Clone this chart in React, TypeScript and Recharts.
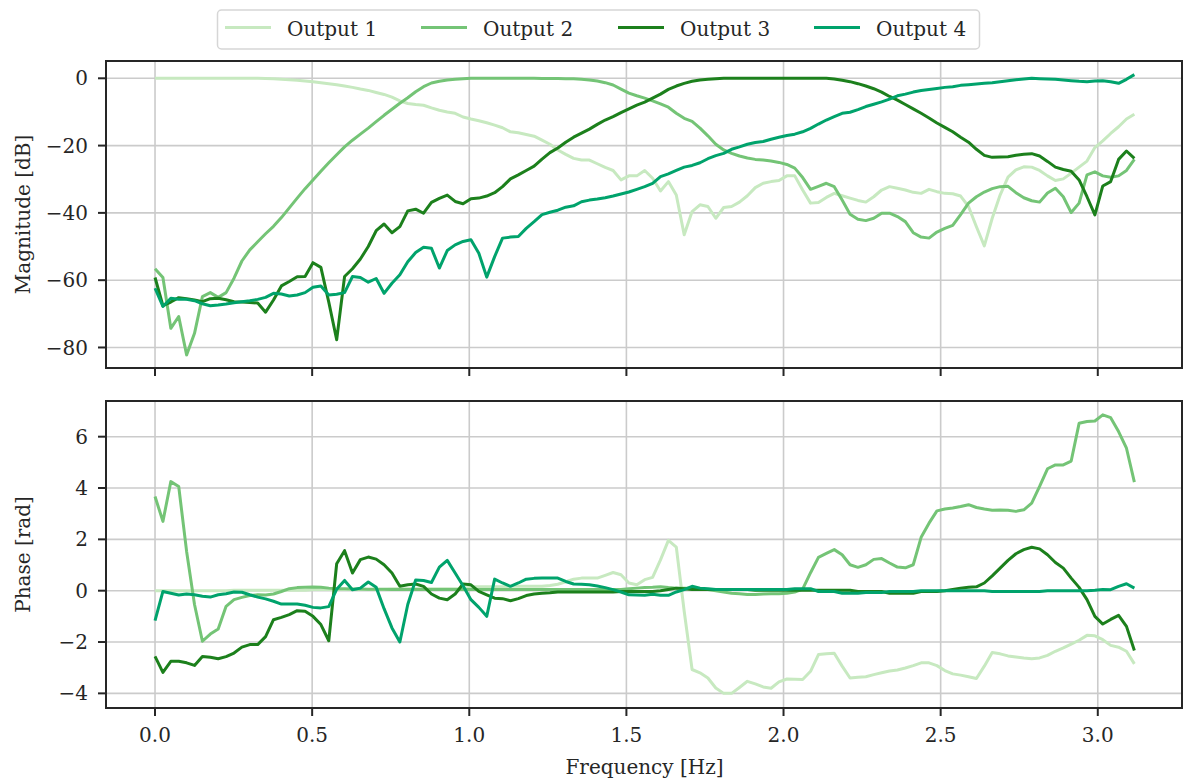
import React from 'react';
import { LineChart, Line, XAxis, YAxis, CartesianGrid, ReferenceArea } from 'recharts';

const FONT = '"DejaVu Serif", serif';
const INK = '#262626';
const GRID = '#cbcbcb';

const seriesNames = ['Output 1', 'Output 2', 'Output 3', 'Output 4'];
const colors = ['#c7e9c0', '#74c476', '#1c801c', '#00a36c'];

const freqTicks = [0, 0.5, 1, 1.5, 2, 2.5, 3];
const magTicks = [-80, -60, -40, -20, 0];
const phaseTicks = [-4, -2, 0, 2, 4, 6];

// magnitude [dB], one value per frequency bin
const mag1 = [
  0, 0, 0, 0, 0, 0, 0, 0, 0, 0, 0, 0, 0, 0, -0.05, -0.15, -0.25, -0.4, -0.55, -0.8,
  -1.0, -1.3, -1.6, -1.9, -2.3, -2.7, -3.2, -3.6, -4.2, -4.8, -5.6, -6.7, -7.5, -7.8, -8.0, -8.8, -9.5, -10.0, -10.4, -11.5,
  -12.1, -12.6, -13.2, -13.9, -14.7, -15.9, -16.2, -16.7, -17.2, -18.4, -19.6, -21.3, -22.6, -23.8, -24.3, -24.3, -25.4, -26.5, -27.4, -30.2,
  -29.0, -29.0, -27.4, -29.7, -33.5, -30.7, -34.7, -46.5, -39.6, -37.6, -38.1, -41.6, -38.4, -38.1, -36.8, -34.9, -32.5, -31.2, -30.7, -30.4,
  -29.0, -29.0, -33.2, -37.1, -36.9, -35.4, -34.2, -34.9, -35.6, -36.3, -36.8, -35.2, -33.2, -32.2, -32.7, -33.2, -33.9, -34.2, -33.0, -33.7,
  -34.2, -34.3, -35.0, -38.1, -44.1, -49.8, -41.6, -34.7, -29.4, -27.2, -26.3, -26.4, -27.4, -29.0, -30.4, -29.9, -28.2, -26.4, -24.6, -20.6,
  -18.6, -16.4, -14.4, -12.1, -10.7,
];
const mag2 = [
  -56.6, -59.2, -74.3, -70.8, -82.2, -75.8, -64.9, -63.7, -65.1, -63.7, -59.4, -54.3, -51.0, -48.6, -46.2, -44.0, -41.4, -38.5, -35.6, -32.8,
  -30.2, -27.6, -25.1, -22.7, -20.4, -18.4, -16.6, -14.8, -12.9, -11.0, -9.2, -7.4, -5.8, -4.0, -2.5, -1.4, -0.9, -0.5, -0.3, -0.15,
  0, 0, 0, 0, 0, 0, 0, 0, 0, -0.05, -0.05, -0.05, -0.1, -0.1, -0.3, -0.5, -0.8, -1.3, -2.0, -3.2,
  -4.4, -5.2, -5.9, -6.7, -7.6, -8.6, -10.4, -11.9, -12.8, -14.8, -17.1, -19.6, -21.3, -22.3, -23.1, -23.7, -24.1, -24.3, -24.6, -25.0,
  -25.6, -26.7, -29.5, -33.0, -32.1, -31.2, -32.2, -36.2, -40.4, -41.9, -42.3, -41.6, -40.1, -40.1, -41.1, -42.6, -45.9, -47.2, -47.5, -45.7,
  -44.6, -43.7, -40.5, -37.1, -35.2, -33.8, -32.8, -32.2, -32.1, -34.0, -35.5, -36.4, -36.8, -34.1, -32.7, -35.2, -39.9, -37.1, -28.7, -27.8,
  -29.0, -29.4, -29.0, -27.4, -24.1,
];
const mag3 = [
  -59.2, -67.6, -66.5, -65.2, -65.5, -65.9, -66.4, -65.5, -65.4, -65.8, -66.4, -66.5, -66.6, -66.8, -69.5, -65.9, -61.7, -60.4, -59.0, -58.9,
  -54.8, -56.2, -66.5, -77.7, -58.9, -56.6, -53.7, -50.0, -45.3, -43.3, -45.9, -44.1, -39.4, -38.9, -40.1, -36.9, -35.7, -34.7, -36.6, -37.3,
  -35.8, -35.6, -35.0, -34.0, -32.2, -29.9, -28.7, -27.4, -26.1, -24.0, -22.1, -20.7, -19.0, -17.5, -16.3, -15.1, -13.7, -12.4, -11.4, -10.2,
  -9.1, -8.0, -7.1, -5.9, -4.7, -3.3, -2.3, -1.5, -0.9, -0.5, -0.3, -0.1, 0, 0, 0, 0, 0, 0, 0, 0,
  0, 0, 0, 0, 0, 0, -0.2, -0.6, -1.0, -1.6, -2.3, -3.1, -4.1, -5.4, -6.5, -7.8, -9.1, -10.4, -11.8, -13.3,
  -14.6, -15.9, -17.5, -19.0, -21.1, -22.9, -23.5, -23.4, -23.3, -22.9, -22.6, -22.4, -23.1, -24.7, -26.4, -27.1, -27.6, -30.2, -35.2, -40.6,
  -32.0, -30.7, -24.1, -21.6, -23.8,
];
const mag4 = [
  -62.4, -67.8, -65.4, -65.7, -65.7, -66.1, -67.0, -67.6, -67.4, -67.1, -66.7, -66.4, -66.1, -65.7, -65.1, -63.9, -64.1, -64.7, -64.4, -63.7,
  -62.1, -61.7, -64.4, -64.2, -63.7, -58.9, -59.2, -60.6, -59.5, -63.9, -60.9, -58.4, -54.5, -51.8, -50.2, -50.5, -56.4, -51.2, -49.5, -48.5,
  -48.0, -52.0, -59.1, -53.0, -47.5, -47.2, -47.0, -44.6, -42.6, -40.5, -39.8, -39.2, -38.3, -37.9, -36.7, -36.2, -35.9, -35.5, -35.0, -34.4,
  -33.8, -33.0, -32.2, -31.2, -29.2, -28.4, -27.4, -26.4, -25.9, -25.1, -23.9, -23.0, -22.3, -21.1, -20.4, -19.6, -19.1, -18.8, -18.1, -17.5,
  -17.0, -16.6, -15.9, -14.9, -13.6, -12.4, -11.4, -10.4, -10.1, -9.3, -8.4, -7.7, -7.0, -6.2, -5.2, -4.7, -4.1, -3.6, -3.3, -3.0,
  -2.7, -2.5, -2.1, -1.9, -1.7, -1.5, -1.3, -1.0, -0.7, -0.4, -0.2, 0, -0.1, -0.2, -0.3, -0.5, -0.7, -0.9, -1.0, -0.8,
  -0.7, -1.0, -1.5, -0.3, 1.1,
];

// phase [rad]
const phase1 = [
  0, 0, 0, 0, 0, 0, 0, 0, 0, 0, 0.02, 0.02, 0.02, 0.02, 0.02, 0.02, 0.02, 0.02, 0.02, 0.02,
  0.05, 0.05, 0.05, 0.05, 0.05, 0.05, 0.05, 0.05, 0.05, 0.05, 0.08, 0.08, 0.08, 0.08, 0.08, 0.08, 0.08, 0.08, 0.08, 0.08,
  0.15, 0.15, 0.15, 0.15, 0.15, 0.17, 0.17, 0.17, 0.17, 0.17, 0.2, 0.25, 0.35, 0.45, 0.49, 0.49, 0.49, 0.6, 0.71, 0.62,
  0.3, 0.23, 0.43, 0.52, 1.2, 1.96, 1.7, -0.8, -3.07, -3.2, -3.4, -3.79, -4.0, -4.0, -3.77, -3.53, -3.63, -3.75, -3.8, -3.55,
  -3.44, -3.45, -3.46, -3.14, -2.49, -2.46, -2.44, -2.94, -3.4, -3.37, -3.35, -3.27, -3.2, -3.13, -3.09, -3.01, -2.92, -2.81, -2.81, -2.92,
  -3.11, -3.24, -3.29, -3.35, -3.42, -2.94, -2.41, -2.46, -2.54, -2.58, -2.62, -2.65, -2.62, -2.52, -2.36, -2.23, -2.08, -1.93, -1.74, -1.76,
  -1.91, -2.13, -2.2, -2.36, -2.85,
];
const phase2 = [
  3.67, 2.7, 4.25, 4.06, 1.53, -0.54, -1.97, -1.69, -1.49, -0.61, -0.35, -0.26, -0.19, -0.16, -0.17, -0.13, -0.03, 0.08, 0.12, 0.13,
  0.14, 0.13, 0.1, 0.08, 0.08, 0.07, 0.07, 0.06, 0.06, 0.06, 0.05, 0.05, 0.05, 0.05, 0.05, 0.05, 0.05, 0.05, 0.05, 0.05,
  0.05, 0.05, 0.05, 0.05, 0.05, 0.05, 0.05, 0.05, 0.05, 0.05, 0.05, 0.05, 0.05, 0.05, 0.05, 0.05, 0.05, 0.05, 0.05, 0.05,
  0.08, 0.1, 0.12, 0.13, 0.15, 0.12, 0.1, 0.1, 0.1, 0.08, 0.05, 0.0, -0.05, -0.1, -0.12, -0.15, -0.15, -0.13, -0.12, -0.12,
  -0.1, -0.05, 0.06, 0.7, 1.3, 1.45, 1.6, 1.4, 1.01, 0.91, 1.01, 1.22, 1.25, 1.08, 0.92, 0.89, 1.01, 2.08, 2.63, 3.11,
  3.18, 3.22, 3.28, 3.35, 3.24, 3.18, 3.13, 3.14, 3.13, 3.09, 3.15, 3.41, 4.06, 4.75, 4.9, 4.9, 5.05, 6.52, 6.59, 6.61,
  6.85, 6.74, 6.2, 5.55, 4.23,
];
const phase3 = [
  -2.56, -3.18, -2.75, -2.75, -2.81, -2.91, -2.56, -2.59, -2.65, -2.57, -2.43, -2.2, -2.1, -2.1, -1.79, -1.13, -1.04, -0.93, -0.78, -0.8,
  -1.0, -1.32, -1.95, 1.05, 1.56, 0.69, 1.21, 1.31, 1.23, 1.01, 0.69, 0.17, 0.23, 0.26, 0.17, -0.13, -0.29, -0.35, -0.13, 0.26,
  0.23, -0.03, -0.16, -0.29, -0.31, -0.39, -0.31, -0.19, -0.13, -0.1, -0.08, -0.05, -0.05, -0.05, -0.05, -0.05, -0.05, -0.05, -0.05, -0.03,
  -0.03, -0.03, -0.03, -0.03, 0, 0.05, 0.1, 0.08, 0.05, 0.05, 0.05, 0.05, 0.05, 0.05, 0.05, 0.05, 0.02, 0.02, 0.02, 0.02,
  0.02, 0.02, 0.02, 0.02, 0.02, 0.02, 0.02, 0.02, 0.02, -0.03, -0.03, -0.03, -0.03, -0.1, -0.1, -0.1, -0.1, -0.03, -0.03, -0.03,
  0, 0.05, 0.1, 0.13, 0.15, 0.3, 0.58, 0.88, 1.18, 1.44, 1.6, 1.69, 1.63, 1.4, 1.1, 0.88, 0.49, 0.13, -0.35, -1.0,
  -1.3, -1.12, -0.96, -1.39, -2.33,
];
const phase4 = [
  -1.17, -0.03, -0.1, -0.17, -0.13, -0.16, -0.22, -0.25, -0.16, -0.12, -0.05, -0.06, -0.16, -0.25, -0.32, -0.41, -0.52, -0.52, -0.52, -0.57,
  -0.65, -0.67, -0.62, 0.06, 0.4, 0.04, 0.1, 0.34, 0.13, -0.7, -1.45, -2.0, -0.54, 0.42, 0.4, 0.32, 0.92, 1.18, 0.69, 0.19,
  -0.35, -0.65, -1.0, 0.45, 0.3, 0.17, 0.3, 0.45, 0.48, 0.49, 0.49, 0.49, 0.36, 0.26, 0.25, 0.23, 0.18, 0.12, 0.04, -0.05,
  -0.16, -0.17, -0.18, -0.14, -0.18, -0.18, -0.05, 0.04, 0.17, 0.1, 0.08, 0.05, 0.05, 0.05, 0.05, 0.05, 0.05, 0.05, 0.05, 0.05,
  0.05, 0.08, 0.08, 0.08, -0.03, -0.03, -0.03, -0.1, -0.1, -0.1, -0.07, -0.07, -0.07, -0.03, -0.03, -0.03, -0.03, 0, 0, 0,
  0, 0, 0, 0, 0, 0, -0.03, -0.03, -0.03, -0.03, -0.03, -0.03, -0.03, 0, 0, 0, 0, 0, 0, 0.02,
  0.05, 0.04, 0.17, 0.27, 0.1,
];

// frequency bins (fs = 2*pi, 250-point FFT)
const freqs = mag1.map((_, i) => (2 * Math.PI * i) / 250);

const magData = freqs.map((f, i) => ({ f, o1: mag1[i], o2: mag2[i], o3: mag3[i], o4: mag4[i] }));
const phaseData = freqs.map((f, i) => ({ f, o1: phase1[i], o2: phase2[i], o3: phase3[i], o4: phase4[i] }));

const X_DOMAIN: [number, number] = [-0.156, 3.268];
const MAG_DOMAIN: [number, number] = [-86.1, 5.14];
const PHASE_DOMAIN: [number, number] = [-4.57, 7.39];

const minus = (v: number) => (v < 0 ? `\u2212${Math.abs(v)}` : `${v}`);
const tickStyle = { fontSize: 20, fill: INK, fontFamily: FONT };

function Panel({
  data,
  yDomain,
  yTicks,
  height,
  marginTop,
  xAxisHeight,
  showXLabels,
}: {
  data: { [k: string]: number }[];
  yDomain: [number, number];
  yTicks: number[];
  height: number;
  marginTop: number;
  xAxisHeight: number;
  showXLabels: boolean;
}) {
  return (
    <LineChart width={1183} height={height} data={data} margin={{ top: marginTop, right: 1, left: 0, bottom: 0 }}>
      <CartesianGrid stroke={GRID} strokeWidth={1.6} />
      <XAxis
        dataKey="f"
        type="number"
        domain={X_DOMAIN}
        allowDataOverflow
        ticks={freqTicks}
        height={xAxisHeight}
        axisLine={false}
        tickLine={{ stroke: INK, strokeWidth: 2 }}
        tickSize={8}
        tickMargin={12}
        tick={tickStyle}
        tickFormatter={(v: number) => (showXLabels ? v.toFixed(1) : '')}
      />
      <YAxis
        type="number"
        domain={yDomain}
        allowDataOverflow
        ticks={yTicks}
        width={106}
        axisLine={false}
        tickLine={{ stroke: INK, strokeWidth: 2 }}
        tickSize={8}
        tickMargin={10}
        tick={tickStyle}
        tickFormatter={minus}
      />
      {['o1', 'o2', 'o3', 'o4'].map((k, i) => (
        <Line
          key={k}
          dataKey={k}
          type="linear"
          stroke={colors[i]}
          strokeWidth={3}
          strokeLinejoin="round"
          dot={false}
          activeDot={false}
          isAnimationActive={false}
        />
      ))}
      <ReferenceArea
        x1={X_DOMAIN[0]}
        x2={X_DOMAIN[1]}
        y1={yDomain[0]}
        y2={yDomain[1]}
        fill="none"
        fillOpacity={0}
        stroke={INK}
        strokeWidth={2}
        ifOverflow="visible"
      />
    </LineChart>
  );
}

export default function App() {
  const legendX = [225, 421, 618, 814];
  return (
    <div style={{ position: 'absolute', left: 0, top: 0, width: 1183, height: 782, background: '#fff', fontFamily: FONT }}>
      <div style={{ position: 'absolute', left: 0, top: 0 }}>
        <Panel data={magData} yDomain={MAG_DOMAIN} yTicks={magTicks} height={380} marginTop={61} xAxisHeight={12} showXLabels={false} />
      </div>
      <div style={{ position: 'absolute', left: 0, top: 380 }}>
        <Panel data={phaseData} yDomain={PHASE_DOMAIN} yTicks={phaseTicks} height={402} marginTop={21} xAxisHeight={74} showXLabels />
      </div>
      <svg width={1183} height={782} style={{ position: 'absolute', left: 0, top: 0, pointerEvents: 'none' }}>
        <text x={30} y={214.5} transform="rotate(-90 30 214.5)" textAnchor="middle" fontSize={20} fill={INK} fontFamily={FONT}>
          Magnitude [dB]
        </text>
        <text x={30} y={554.5} transform="rotate(-90 30 554.5)" textAnchor="middle" fontSize={20} fill={INK} fontFamily={FONT}>
          Phase [rad]
        </text>
        <text x={644.5} y={774} textAnchor="middle" fontSize={20} fill={INK} fontFamily={FONT}>
          Frequency [Hz]
        </text>
        <rect x={217.5} y={10} width={762} height={39} rx={4} fill="#fff" fillOpacity={0.8} stroke="#d6d6d6" strokeWidth={1.5} />
        {seriesNames.map((name, i) => (
          <g key={name}>
            <line x1={legendX[i]} x2={legendX[i] + 46} y1={27.5} y2={27.5} stroke={colors[i]} strokeWidth={3} />
            <text x={legendX[i] + 62} y={35.5} fontSize={20} fill={INK} fontFamily={FONT}>
              {name}
            </text>
          </g>
        ))}
      </svg>
    </div>
  );
}
